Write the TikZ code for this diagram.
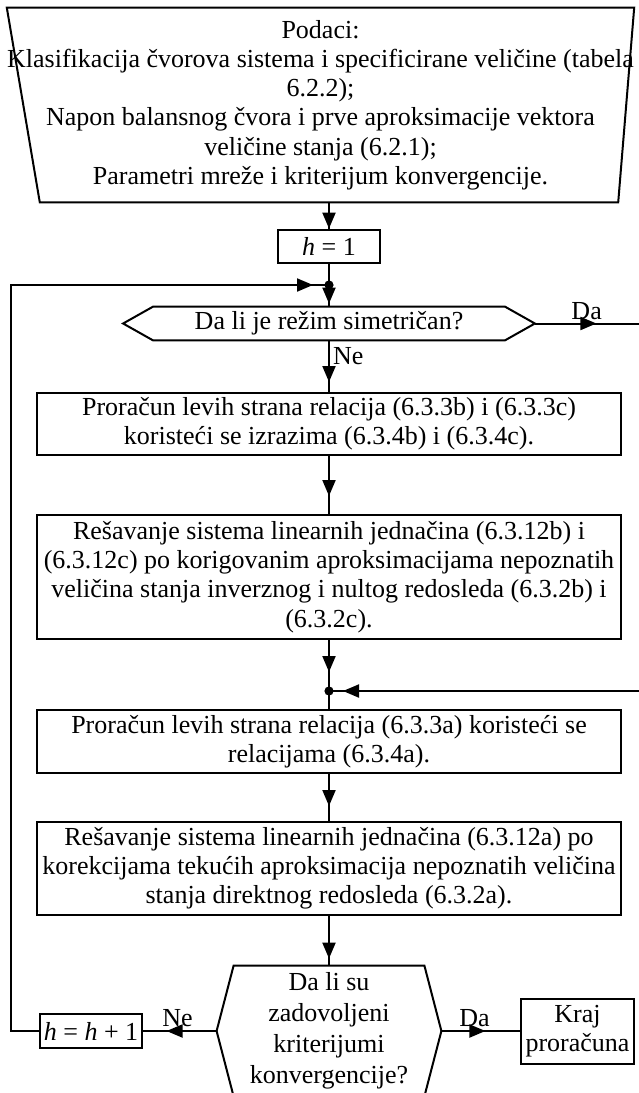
\documentclass[tikz,border=0pt]{standalone}
\usepackage{fontspec}
\setmainfont{Liberation Serif}
\usetikzlibrary{arrows.meta,decorations.markings}

\begin{document}
\begin{tikzpicture}[x=0.5pt,y=-0.5pt,>={Triangle[length=8pt,width=6.5pt]},
ln/.style={line width=1pt},
box/.style={draw,line width=1pt,minimum width=292pt,inner sep=0pt,align=center,font=\fontsize{13}{14.6}\selectfont},
shp/.style={inner sep=0pt,align=center,font=\fontsize{13}{14.6}\selectfont},
arr/.style={ln,postaction={decorate},decoration={markings,mark=at position #1 with {\arrow{>}}}},
lbl/.style={font=\fontsize{13}{14.6}\selectfont,inner sep=1.5pt}
]
\useasboundingbox (0,0) rectangle (638,1093);

% start data and first decision
\node[shp,minimum width=309.5pt,minimum height=97pt] (podaci) at (320.5,105) {Podaci:\\
Klasifikacija čvorova sistema i specificirane veličine (tabela\\ 6.2.2);\\
Napon balansnog čvora i prve aproksimacije vektora\\ veličine stanja (6.2.1);\\
Parametri mreže i kriterijum konvergencije.};
\draw[ln] (podaci.north west) -- (podaci.north east) -- ([xshift=-8pt]podaci.south east) -- ([xshift=16.5pt]podaci.south west) -- cycle;
\node[box,minimum width=51pt,minimum height=16.5pt] (h1) at (329,246.5) {\textit{h} = 1};
\coordinate (j1) at (329,285);
\node[shp,minimum width=205.5pt,minimum height=16.5pt] (sim) at (329,323.5) {Da li je režim simetričan?};
\draw[ln] (sim.west) -- ([xshift=15pt]sim.north west) -- ([xshift=-15pt]sim.north east) -- (sim.east) -- ([xshift=-15pt]sim.south east) -- ([xshift=15pt]sim.south west) -- cycle;

% computation boxes
\node[box,minimum height=31pt] (p1) at (329,424) {Proračun levih strana relacija (6.3.3b) i (6.3.3c)\\ koristeći se izrazima (6.3.4b) i (6.3.4c).};
\node[box,minimum height=62pt] (r1) at (329,577) {Rešavanje sistema linearnih jednačina (6.3.12b) i\\ (6.3.12c) po korigovanim aproksimacijama nepoznatih\\ veličina stanja inverznog i nultog redosleda (6.3.2b) i\\ (6.3.2c).};
\coordinate (j2) at (329,691);
\node[box,minimum height=31.5pt] (p2) at (329,741.5) {Proračun levih strana relacija (6.3.3a) koristeći se\\ relacijama (6.3.4a).};
\node[box,minimum height=46.5pt] (r2) at (329,868.5) {Rešavanje sistema linearnih jednačina (6.3.12a) po\\ korekcijama tekućih aproksimacija nepoznatih veličina\\ stanja direktnog redosleda (6.3.2a).};

% convergence test
\node[shp,minimum width=112pt,minimum height=65pt,font=\fontsize{13}{15.5}\selectfont] (krit) at (329,1031) {Da li su\\ zadovoljeni\\ kriterijumi\\ konvergencije?};
\draw[ln] (krit.west) -- ([xshift=8.5pt]krit.north west) -- ([xshift=-8.5pt]krit.north east) -- (krit.east) -- ([xshift=-8.5pt]krit.south east) -- ([xshift=8.5pt]krit.south west) -- cycle;
\node[box,minimum width=51pt,minimum height=17pt] (hh) at (91,1031) {\textit{h} = \textit{h} + 1};
\node[box,minimum width=56.5pt,minimum height=32.5pt] (kraj) at (577.5,1031) {Kraj\\ proračuna};
\coordinate (lb) at (11,1031);
\coordinate (lt) at (11,285);
\coordinate (rt) at (645,323.5);
\coordinate (rb) at (645,691);

% connectors
\draw[arr=-0.2pt] (podaci.south -| h1.north) -- (h1);
\draw[ln] (h1) -- (j1);
\draw[arr=-1.5pt] (j1) -- (sim);
\draw[arr=-5pt] (sim) -- node[lbl,right,pos=0.3]{Ne} (p1);
\draw[arr=-9pt] (p1) -- (r1);
\draw[arr=-9.5pt] (r1) -- (j2);
\draw[ln] (j2) -- (p2);
\draw[arr=-7.5pt] (p2) -- (r2);
\draw[arr=-3.5pt] (r2) -- (krit);
\draw[ln,postaction={decorate},decoration={markings,mark=at position 30.75pt with {\arrow{>}},mark=at position -7pt with {\arrow{>}}}]
  (sim.east) -- node[lbl,above,pos=0.47]{Da} (rt) -- (rb) -- (j2);
\draw[arr=0.68] (krit.west) -- node[lbl,above,pos=0.53]{Ne} (hh.east);
\draw[arr=0.56] (krit.east) -- node[lbl,above,pos=0.42]{Da} (kraj.west);
\draw[arr=-8pt] (hh.west) -- (lb) -- (lt) -- (j1);
\fill (j1) circle (2.3pt);
\fill (j2) circle (2.3pt);
\end{tikzpicture}
\end{document}
